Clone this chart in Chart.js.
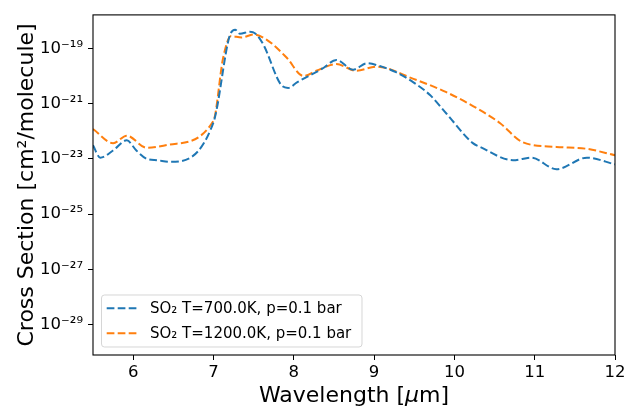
<!DOCTYPE html>
<html>
<head>
<meta charset="utf-8">
<script src="https://cdn.jsdelivr.net/npm/chart.js@4"></script>
<style>
  html, body { margin: 0; padding: 0; background: #fff; }
  #c { display: block; }
</style>
</head>
<body>
<canvas id="c" width="624" height="406"></canvas>
<script>
// 700K のデータ (波長 µm / 断面積 cm^2/molecule)
var wl700 = [5.5, 5.59, 5.75, 5.92, 6.04, 6.17, 6.3, 6.46, 7.0, 7.2, 7.27, 7.33, 7.45, 7.52, 7.62, 7.85, 7.93, 8.04, 8.35, 8.53, 8.74, 8.91, 9.07, 9.28, 9.49, 9.7, 9.9, 10.23, 10.32, 10.73, 10.96, 11.27, 11.65, 12.0];
var xs700 = [3.1e-23, 1.1e-23, 2.0e-23, 4.7e-23, 2.0e-23, 1.0e-23, 8.9e-24, 7.8e-24, 2.1e-22, 2.75e-19, 4.8e-19, 3.4e-19, 4.0e-19, 3.5e-19, 1.4e-19, 4.5e-21, 3.7e-21, 5.9e-21, 1.8e-20, 3.8e-20, 1.7e-20, 2.9e-20, 2.3e-20, 1.35e-20, 5.9e-21, 2.0e-21, 4.4e-22, 3.7e-23, 2.7e-23, 8.9e-24, 1.1e-23, 4.2e-24, 1.1e-23, 6.3e-24];

// 1200K のデータ
var wl1200 = [5.5, 5.75, 5.92, 6.17, 6.46, 7.0, 7.12, 7.22, 7.35, 7.5, 7.66, 7.91, 8.12, 8.28, 8.53, 8.78, 9.03, 9.49, 9.9, 10.32, 10.57, 10.85, 11.27, 11.65, 12.0];
var xs1200 = [1.2e-22, 3.7e-23, 6.9e-23, 2.5e-23, 3.3e-23, 2.4e-22, 4.5e-20, 2.8e-19, 2.5e-19, 3.2e-19, 2.1e-19, 4.7e-20, 1.0e-20, 1.55e-20, 2.7e-20, 1.55e-20, 2.2e-20, 7.9e-21, 2.6e-21, 5.8e-22, 1.95e-22, 4.0e-23, 2.7e-23, 2.3e-23, 1.35e-23];

var seriesNames = ["SO₂ T=700.0K, p=0.1 bar", "SO₂ T=1200.0K, p=0.1 bar"];
var seriesColors = ["#1f77b4", "#ff7f0e"];

// 軸
var xMin = 5.5, xMax = 12;
var xTicks = [6, 7, 8, 9, 10, 11, 12];
var yMin = 7.8e-31, yMax = 1.64e-18;
var yTicks = [1e-29, 1e-27, 1e-25, 1e-23, 1e-21, 1e-19];

var FONT = "'DejaVu Sans', sans-serif";

function sup(n){
    var m = {'-':'⁻','0':'⁰','1':'¹','2':'²','3':'³','4':'⁴','5':'⁵','6':'⁶','7':'⁷','8':'⁸','9':'⁹'};
    return String(n).split('').map(function(c){ return m[c]; }).join('');
}

function toPoints(xs, ys){
    return xs.map(function(x, i){ return {x: x, y: ys[i]}; });
}

// 枠線・凡例・軸タイトルを描く
var decor = {
    id: 'decor',
    afterDraw: function(chart){
        var ctx = chart.ctx;
        var a = chart.chartArea;
        ctx.save();
        // 枠
        ctx.strokeStyle = '#000';
        ctx.lineWidth = 1.1;
        ctx.strokeRect(a.left, a.top, a.right - a.left, a.bottom - a.top);

        // 凡例
        var bx = 101.5, by = 295, bw = 260.5, bh = 52;
        ctx.fillStyle = 'rgba(255,255,255,0.8)';
        ctx.strokeStyle = 'rgba(204,204,204,0.8)';
        ctx.lineWidth = 1;
        ctx.beginPath();
        ctx.roundRect(bx, by, bw, bh, 3);
        ctx.fill();
        ctx.stroke();
        ctx.font = '15px ' + FONT;
        ctx.textBaseline = 'alphabetic';
        ctx.textAlign = 'left';
        chart.data.datasets.forEach(function(ds, i){
            var yy = 308.3 + i * 25;
            ctx.strokeStyle = ds.borderColor;
            ctx.lineWidth = 2;
            ctx.setLineDash([7.7, 3.3]);
            ctx.beginPath();
            ctx.moveTo(106.7, yy);
            ctx.lineTo(138.3, yy);
            ctx.stroke();
            ctx.setLineDash([]);
            ctx.fillStyle = '#000';
            ctx.fillText(ds.label, 150, yy + 4.5);
        });

        // x軸タイトル
        ctx.fillStyle = '#000';
        ctx.textBaseline = 'alphabetic';
        var t1 = 'Wavelength [', t2 = 'μ', t3 = 'm]';
        ctx.font = '22px ' + FONT;
        var w1 = ctx.measureText(t1).width, w3 = ctx.measureText(t3).width;
        ctx.font = 'italic 22px ' + FONT;
        var w2 = ctx.measureText(t2).width;
        var cx = (a.left + a.right) / 2;
        var x0 = cx - (w1 + w2 + w3) / 2;
        ctx.font = '22px ' + FONT;
        ctx.fillText(t1, x0, 401.5);
        ctx.font = 'italic 22px ' + FONT;
        ctx.fillText(t2, x0 + w1, 401.5);
        ctx.font = '22px ' + FONT;
        ctx.fillText(t3, x0 + w1 + w2, 401.5);

        // y軸タイトル
        ctx.translate(33, (a.top + a.bottom) / 2);
        ctx.rotate(-Math.PI / 2);
        ctx.textAlign = 'center';
        ctx.fillText('Cross Section [cm²/molecule]', 0, 0);
        ctx.restore();
    }
};

var ctx1 = document.getElementById("c");

var chart = new Chart(ctx1, {
    type: 'line',
    data: {
        datasets: [{
            label: seriesNames[0],
            data: toPoints(wl700, xs700),
            borderColor: seriesColors[0],
            borderWidth: 2,
            borderDash: [7.7, 3.3],
            pointRadius: 0,
            fill: false,
            cubicInterpolationMode: 'monotone'
        }, {
            label: seriesNames[1],
            data: toPoints(wl1200, xs1200),
            borderColor: seriesColors[1],
            borderWidth: 2,
            borderDash: [7.7, 3.3],
            pointRadius: 0,
            fill: false,
            cubicInterpolationMode: 'monotone'
        }]
    },
    options: {
        responsive: false,
        animation: false,
        devicePixelRatio: 1,
        layout: { padding: { left: 0, top: 10, right: 9, bottom: 0 } },
        plugins: {
            legend: { display: false },
            tooltip: { enabled: false }
        },
        scales: {
            x: {
                type: 'linear',
                min: xMin,
                max: xMax,
                afterBuildTicks: function(s){ s.ticks = xTicks.map(function(v){ return {value: v}; }); },
                afterFit: function(s){ s.height = 51; s.paddingLeft = 0; s.paddingRight = 0; },
                grid: { display: true, drawOnChartArea: false, drawTicks: true, tickLength: 5, tickColor: '#000', tickWidth: 1 },
                border: { display: false },
                ticks: {
                    color: '#000',
                    font: { family: FONT, size: 16.5 },
                    padding: 3,
                    maxRotation: 0,
                    autoSkip: false,
                    callback: function(v){ return String(v); }
                }
            },
            y: {
                type: 'logarithmic',
                min: yMin,
                max: yMax,
                afterBuildTicks: function(s){ s.ticks = yTicks.map(function(v){ return {value: v}; }); },
                afterFit: function(s){ s.width = 93; },
                grid: { display: true, drawOnChartArea: false, drawTicks: true, tickLength: 5, tickColor: '#000', tickWidth: 1 },
                border: { display: false },
                ticks: {
                    color: '#000',
                    font: { family: FONT, size: 16.5 },
                    padding: 5,
                    autoSkip: false,
                    callback: function(v){ return '10' + sup(Math.round(Math.log10(v))); }
                }
            }
        }
    },
    plugins: [decor]
});
</script>
</body>
</html>
